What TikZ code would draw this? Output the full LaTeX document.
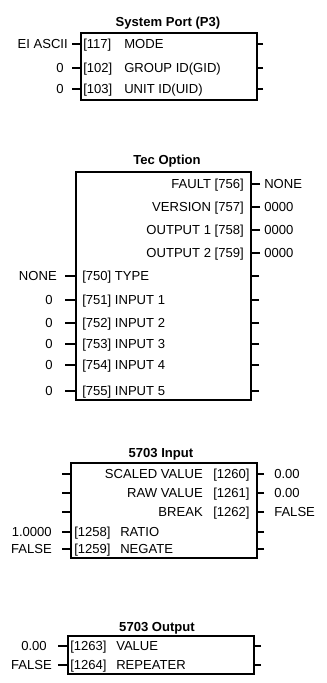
\documentclass[tikz,border=0pt]{standalone}
\usepackage{fontspec}
\setmainfont{Liberation Sans}
\begin{document}
\begin{tikzpicture}[x=0.75pt,y=-0.75pt,line width=0.4pt,
  every node/.style={font=\fontsize{9.8}{11}\selectfont,inner sep=0pt,text height=7pt,text depth=0pt},
  title/.style={font=\fontsize{9.8}{11}\selectfont\bfseries},
  blockbox/.style={draw,line width=1.5pt},
  stub/.style={line width=1pt}]
\useasboundingbox (0,0) rectangle (326,683);
% System Port (P3)
\node[title] (sp-title) at (168,22) {System Port (P3)};
\coordinate (sp-nw) at (81,33);
\coordinate (sp-se) at (257,100);
\draw[blockbox] (sp-nw) rectangle (sp-se);
\node[anchor=west] (sp-n117) at (83,44) {[117]};
\node[anchor=west] (sp-mode) at (124,44) {MODE};
\node[anchor=west] (sp-n102) at (83,68) {[102]};
\node[anchor=west] (sp-gid) at (124,68) {GROUP ID(GID)};
\node[anchor=west] (sp-n103) at (83,89) {[103]};
\node[anchor=west] (sp-uid) at (124,89) {UNIT ID(UID)};
\node[anchor=east] (sp-v117) at (68,44) {EI ASCII};
\node[anchor=east] (sp-v102) at (64,68) {0};
\node[anchor=east] (sp-v103) at (64,89) {0};
\coordinate (sp-l1) at (72,44);
\coordinate (sp-l2) at (72,68);
\coordinate (sp-l3) at (72,89);
\coordinate (sp-r1) at (263,44);
\coordinate (sp-r2) at (263,68);
\coordinate (sp-r3) at (263,89);
\draw[stub] (sp-l1) -- (sp-l1 -| sp-nw);
\draw[stub] (sp-l2) -- (sp-l2 -| sp-nw);
\draw[stub] (sp-l3) -- (sp-l3 -| sp-nw);
\draw[stub] (sp-r1) -- (sp-r1 -| sp-se);
\draw[stub] (sp-r2) -- (sp-r2 -| sp-se);
\draw[stub] (sp-r3) -- (sp-r3 -| sp-se);
% Tec Option
\node[title] (tec-title) at (167,160) {Tec Option};
\coordinate (tec-nw) at (76,172);
\coordinate (tec-se) at (251,400);
\draw[blockbox] (tec-nw) rectangle (tec-se);
\node[anchor=east] (tec-fault) at (244,184) {FAULT [756]};
\node[anchor=east] (tec-version) at (244,207) {VERSION [757]};
\node[anchor=east] (tec-out1) at (244,230) {OUTPUT 1 [758]};
\node[anchor=east] (tec-out2) at (244,253) {OUTPUT 2 [759]};
\node[anchor=west] (tec-type) at (82,276) {[750] TYPE};
\node[anchor=west] (tec-in1) at (82,300) {[751] INPUT 1};
\node[anchor=west] (tec-in2) at (82,323) {[752] INPUT 2};
\node[anchor=west] (tec-in3) at (82,344) {[753] INPUT 3};
\node[anchor=west] (tec-in4) at (82,365) {[754] INPUT 4};
\node[anchor=west] (tec-in5) at (82,391) {[755] INPUT 5};
\node[anchor=west] (tec-vfault) at (264,184) {NONE};
\node[anchor=west] (tec-vversion) at (264,207) {0000};
\node[anchor=west] (tec-vout1) at (264,230) {0000};
\node[anchor=west] (tec-vout2) at (264,253) {0000};
\node[anchor=east] (tec-vtype) at (57,276) {NONE};
\node[anchor=east] (tec-vin1) at (53,300) {0};
\node[anchor=east] (tec-vin2) at (53,323) {0};
\node[anchor=east] (tec-vin3) at (53,344) {0};
\node[anchor=east] (tec-vin4) at (53,365) {0};
\node[anchor=east] (tec-vin5) at (53,391) {0};
\foreach \y in {184,207,230,253} {
  \coordinate (tec-r) at (260,\y);
  \draw[stub] (tec-r) -- (tec-r -| tec-se);
}
\foreach \y in {276,300,323,344,365,391} {
  \coordinate (tec-l) at (65,\y);
  \coordinate (tec-r) at (259,\y);
  \draw[stub] (tec-l) -- (tec-l -| tec-nw);
  \draw[stub] (tec-r) -- (tec-r -| tec-se);
}
% 5703 Input
\node[title] (in-title) at (161,453) {5703 Input};
\coordinate (in-nw) at (71,463);
\coordinate (in-se) at (257,558);
\draw[blockbox] (in-nw) rectangle (in-se);
\node[anchor=east] (in-scaled) at (203,474) {SCALED VALUE};
\node[anchor=east] (in-raw) at (203,493) {RAW VALUE};
\node[anchor=east] (in-break) at (203,512) {BREAK};
\node[anchor=west] (in-n1260) at (213,474) {[1260]};
\node[anchor=west] (in-n1261) at (213,493) {[1261]};
\node[anchor=west] (in-n1262) at (213,512) {[1262]};
\node[anchor=west] (in-n1258) at (74,532) {[1258]};
\node[anchor=west] (in-ratio) at (120,532) {RATIO};
\node[anchor=west] (in-n1259) at (74,549) {[1259]};
\node[anchor=west] (in-negate) at (120,549) {NEGATE};
\node[anchor=west] (in-v1260) at (274,474) {0.00};
\node[anchor=west] (in-v1261) at (274,493) {0.00};
\node[anchor=west] (in-v1262) at (274,512) {FALSE};
\node[anchor=east] (in-v1258) at (52,532) {1.0000};
\node[anchor=east] (in-v1259) at (52,549) {FALSE};
\foreach \y in {474,493,512,532,549} {
  \coordinate (in-l) at (62,\y);
  \coordinate (in-r) at (264,\y);
  \draw[stub] (in-l) -- (in-l -| in-nw);
  \draw[stub] (in-r) -- (in-r -| in-se);
}
% 5703 Output
\node[title] (out-title) at (157,627) {5703 Output};
\coordinate (out-nw) at (68,636);
\coordinate (out-se) at (254,674);
\draw[blockbox] (out-nw) rectangle (out-se);
\node[anchor=west] (out-n1263) at (70,646) {[1263]};
\node[anchor=west] (out-value) at (116,646) {VALUE};
\node[anchor=west] (out-n1264) at (70,665) {[1264]};
\node[anchor=west] (out-repeater) at (116,665) {REPEATER};
\node[anchor=east] (out-v1263) at (47,646) {0.00};
\node[anchor=east] (out-v1264) at (52,665) {FALSE};
\foreach \y in {646,665} {
  \coordinate (out-l) at (58,\y);
  \coordinate (out-r) at (261,\y);
  \draw[stub] (out-l) -- (out-l -| out-nw);
  \draw[stub] (out-r) -- (out-r -| out-se);
}
\end{tikzpicture}
\end{document}
